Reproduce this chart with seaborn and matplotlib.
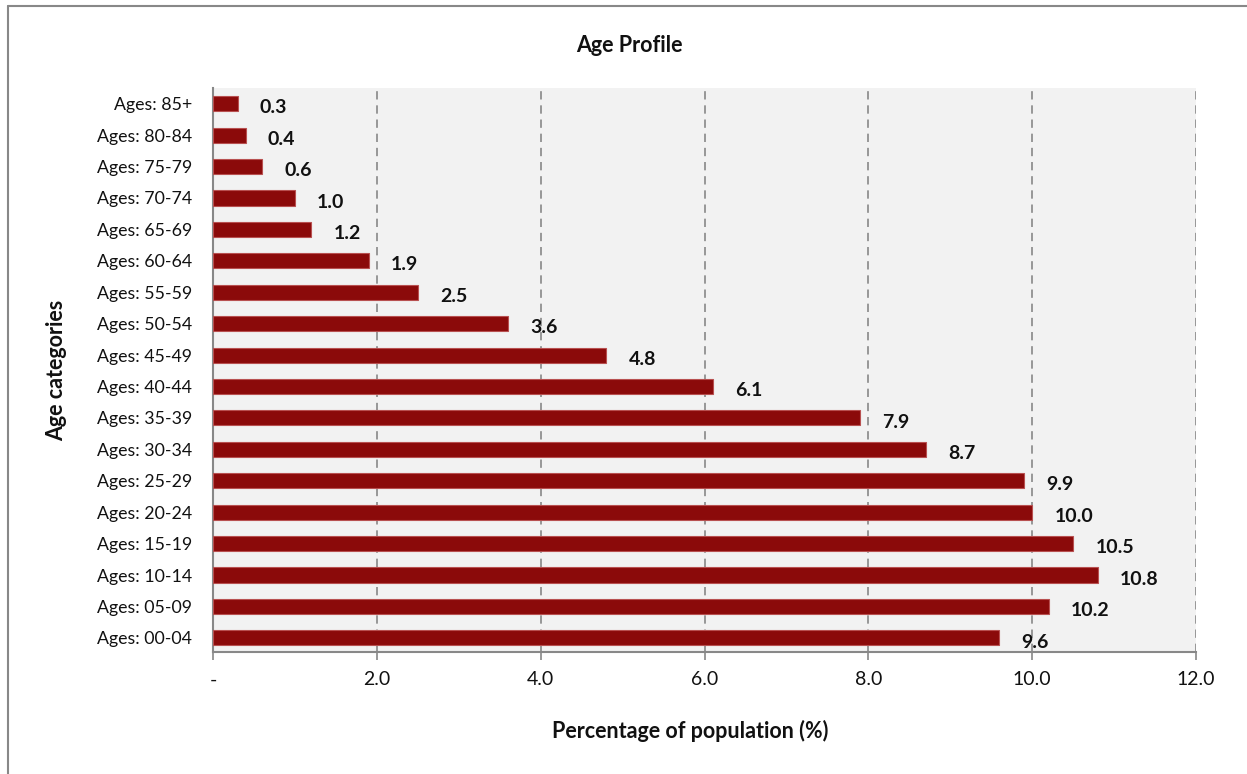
import matplotlib
matplotlib.use("Agg")
import matplotlib.pyplot as plt
from matplotlib.lines import Line2D
import seaborn as sns
import pandas as pd

# Age groups and their share of the population (%)
age_groups = [
    "Ages: 00-04", "Ages: 05-09", "Ages: 10-14", "Ages: 15-19", "Ages: 20-24",
    "Ages: 25-29", "Ages: 30-34", "Ages: 35-39", "Ages: 40-44", "Ages: 45-49",
    "Ages: 50-54", "Ages: 55-59", "Ages: 60-64", "Ages: 65-69", "Ages: 70-74",
    "Ages: 75-79", "Ages: 80-84", "Ages: 85+",
]
shares = [9.6, 10.2, 10.8, 10.5, 10.0, 9.9, 8.7, 7.9, 6.1, 4.8,
          3.6, 2.5, 1.9, 1.2, 1.0, 0.6, 0.4, 0.3]
x_ticks = [0, 2, 4, 6, 8, 10, 12]
x_tick_labels = ["-", "2.0", "4.0", "6.0", "8.0", "10.0", "12.0"]

df = pd.DataFrame({"group": age_groups, "share": shares})
order = age_groups[::-1]  # oldest group on top

sns.set_theme(style="white")
plt.rcParams["font.family"] = ["Lato", "DejaVu Sans"]

W, H = 1247, 774
fig = plt.figure(figsize=(W / 100, H / 100), dpi=100)
ax = fig.add_axes([213 / W, 1 - 652 / H, (1196 - 213) / W, (652 - 88) / H])
ax.set_facecolor("#F2F2F2")

sns.barplot(data=df, y="group", x="share", order=order, orient="h",
            color="#8B0A0A", saturation=1, width=0.48,
            edgecolor="#B85050", linewidth=0.8, ax=ax, zorder=3)

# value labels beside each bar
for i, g in enumerate(order):
    v = shares[age_groups.index(g)]
    ax.annotate(f"{v:.1f}", xy=(v, i), xytext=(16, -3), textcoords="offset points",
                ha="left", va="center", fontsize=14, fontweight="bold",
                color="#111111", zorder=4)

ax.set_xlim(0, 12)
ax.set_ylim(17.45, -0.5)
ax.set_xticks(x_ticks)
ax.set_xticklabels(x_tick_labels, fontsize=14, color="#111111")
ax.tick_params(axis="x", direction="out", length=6, width=1.2, color="#888888", pad=8,
               bottom=True)
ax.tick_params(axis="y", length=0, pad=15, labelsize=12.8, labelcolor="#111111")

ax.grid(axis="x", linestyle=(0, (5, 3.5)), color="#888888", linewidth=1.2, zorder=1)
ax.grid(axis="y", visible=False)
ax.set_axisbelow(True)

for side in ["top", "right"]:
    ax.spines[side].set_visible(False)
for side in ["left", "bottom"]:
    ax.spines[side].set_color("#888888")
    ax.spines[side].set_linewidth(1.5)

ax.set_xlabel("Percentage of population (%)", fontsize=15.5, fontweight="bold",
              color="#111111")
ax.set_ylabel("Age categories", fontsize=15.5, fontweight="bold", color="#111111")
ax.xaxis.label.set_va("center")
ax.yaxis.label.set_va("center")
ax.xaxis.set_label_coords((690 - 213) / 983, -(731 - 652) / 564)
ax.yaxis.set_label_coords((57 - 213) / 983, 0.5)

fig.text(629 / W, 1 - 45 / H, "Age Profile", ha="center", va="center",
         fontsize=15.5, fontweight="bold", color="#111111")

# outer chart frame
fig.add_artist(Line2D([8 / W, 8 / W], [0, 1 - 6 / H], transform=fig.transFigure,
                      color="#888888", linewidth=1.5))
fig.add_artist(Line2D([8 / W, 1], [1 - 6 / H, 1 - 6 / H], transform=fig.transFigure,
                      color="#888888", linewidth=1.5))

fig.savefig("out.png", dpi=100, facecolor="white")
